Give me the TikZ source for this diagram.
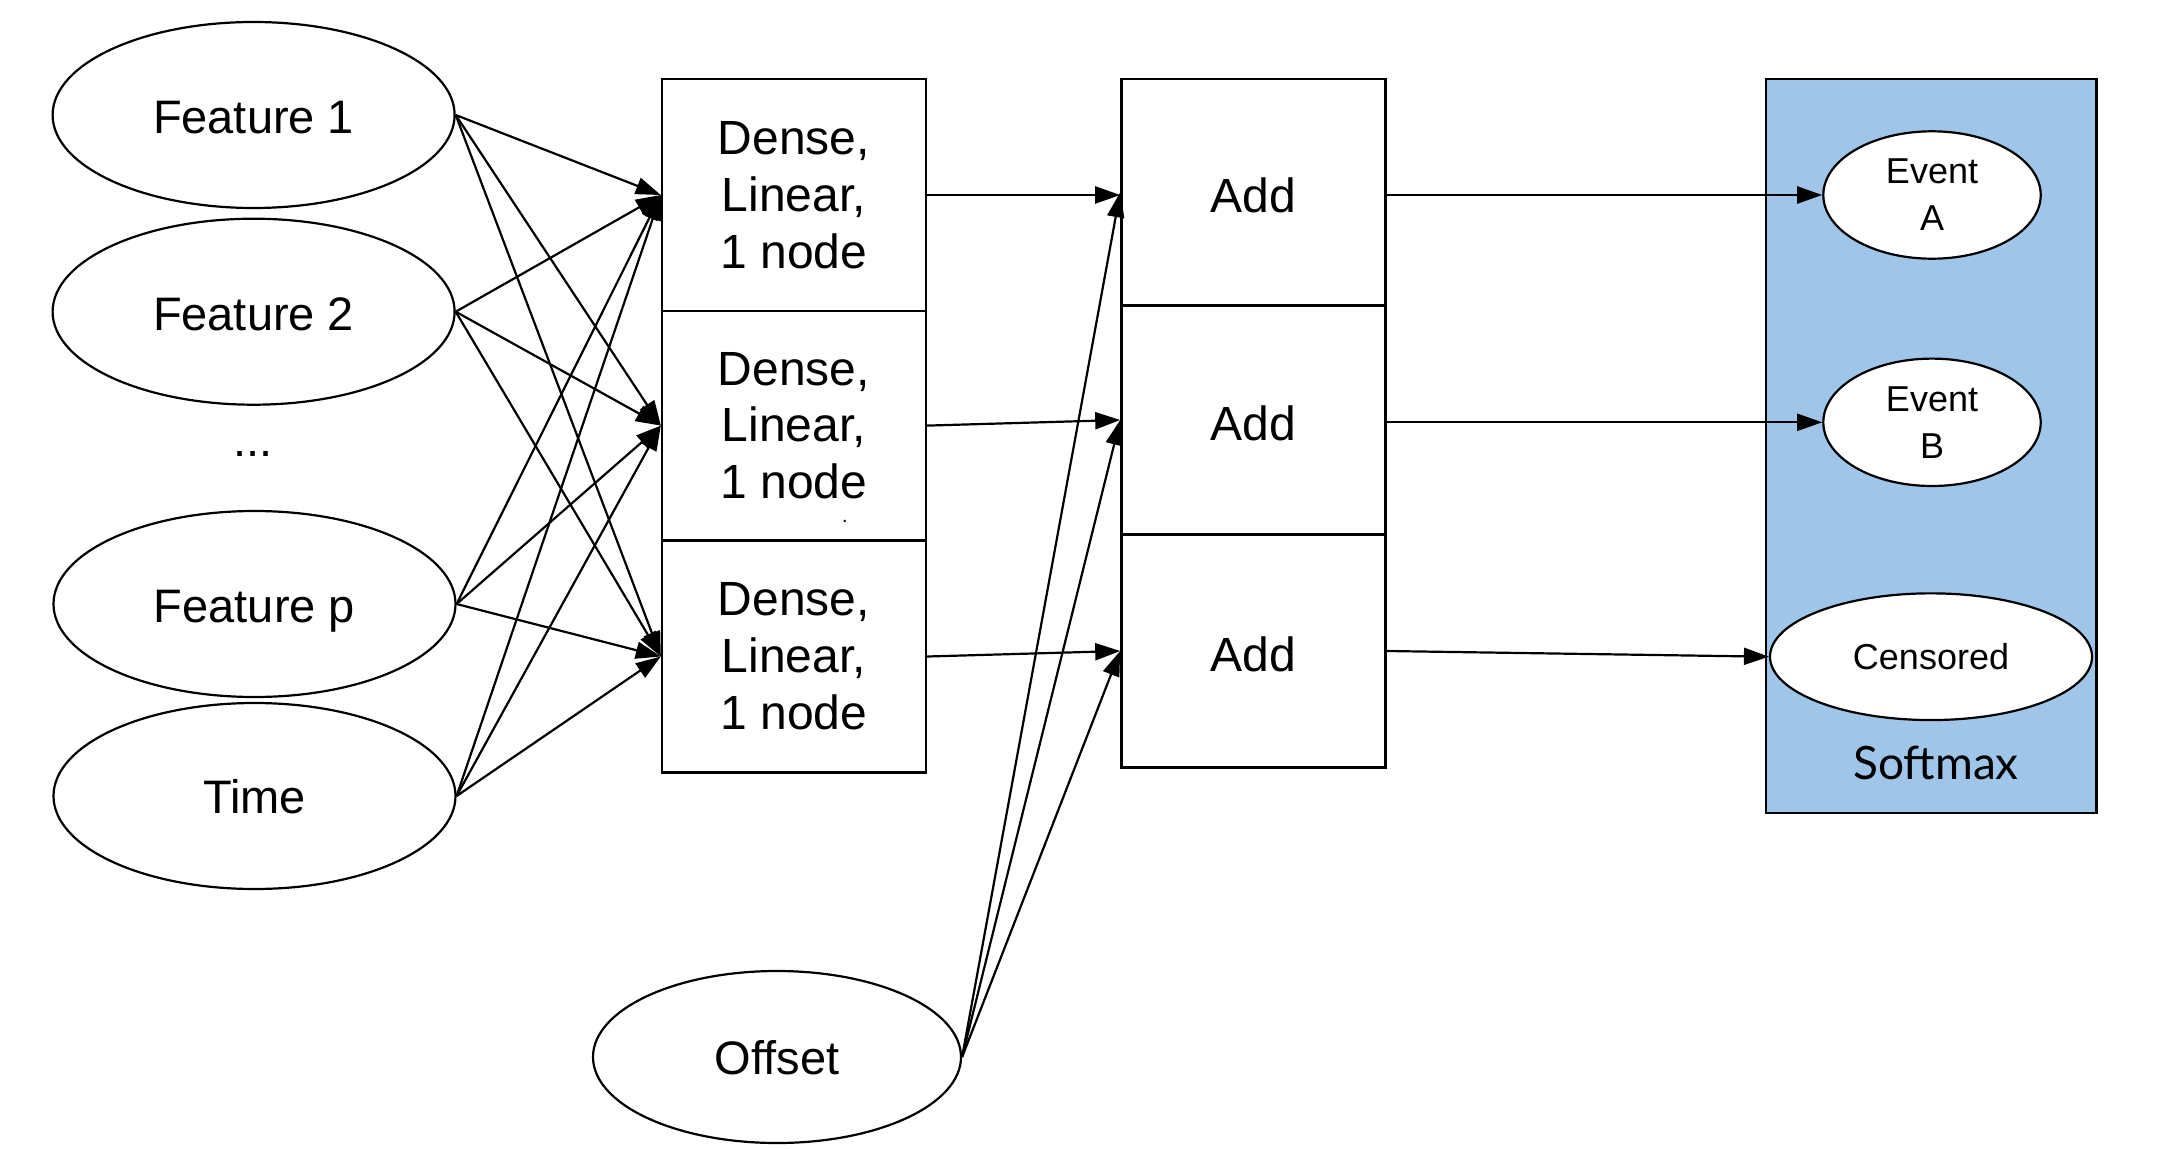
\documentclass[tikz,border=0pt]{standalone}
\usepackage{fontspec}
\setmainfont{Liberation Sans}
\newfontfamily\latofont{Lato}
\usetikzlibrary{shapes.geometric,arrows.meta}
\definecolor{softblue}{HTML}{9FC5E8}
\begin{document}
\begin{tikzpicture}[x=1pt,y=-1pt,
  ell/.style={draw, ellipse, line width=2.2pt, fill=white, inner sep=0pt},
  feat/.style={ell, minimum width=402pt, minimum height=186pt, text height=37pt, text depth=0pt, font=\fontsize{47}{56}\selectfont},
  box/.style={draw, rectangle, line width=2.4pt, inner sep=0pt, minimum width=264pt, align=center},
  dense/.style={box, font=\fontsize{48}{56.8}\selectfont},
  addbox/.style={box, text height=40.4pt, text depth=0pt, font=\fontsize{48}{56}\selectfont},
  evt/.style={ell, minimum width=217.4pt, minimum height=127.4pt, align=center, font=\fontsize{36}{47}\selectfont},
  arr/.style={-{Triangle[length=25pt,width=17pt]}, line width=2.2pt},
]
\fill[white] (0,0) rectangle (2167,1148);
\useasboundingbox (0,0) rectangle (2167,1148);

% softmax container
\node[draw, fill=softblue, line width=2.4pt, inner sep=0pt, minimum width=330.5pt, minimum height=733.5pt] (sm) at (1931.3,446) {};
\node[font=\latofont\fontsize{46}{50}\selectfont] (smlabel) at (1936,763) {Softmax};

% inputs
\node[feat] (f1) at (253.6,115) {Feature 1};
\node[feat] (f2) at (253.6,311.7) {Feature 2};
\node[font=\fontsize{47}{56}\selectfont, anchor=base, inner sep=0pt] (dots) at (253,456) {...};
\node[feat] (fp) at (254.5,604) {Feature p};
\node[feat, text height=34.5pt] (time) at (254.5,796) {Time};
\node[ell, minimum width=368pt, minimum height=172pt, text height=34.5pt, text depth=0pt, font=\fontsize{47}{56}\selectfont] (off) at (777,1057) {Offset};

% dense layers
\node[dense, minimum height=231.6pt] (d1) at (794,195) {Dense,\\Linear,\\1 node};
\node[dense, minimum height=229.6pt] (d2) at (794,425.6) {Dense,\\Linear,\\1 node};
\node[dense, minimum height=232.3pt] (d3) at (794,656.5) {Dense,\\Linear,\\1 node};
\node[font=\fontsize{20}{20}\selectfont, inner sep=0pt] (dot) at (845,521) {.};

% add layers
\node[addbox, minimum height=226.2pt] (a1) at (1253.4,192.3) {Add};
\node[addbox, minimum height=229.2pt] (a2) at (1253.4,420) {Add};
\node[addbox, minimum height=232.8pt] (a3) at (1253.4,651) {Add};

% outputs
\node[evt] (ea) at (1932,195) {Event\\A};
\node[evt] (eb) at (1932,422.3) {Event\\B};
\node[ell, minimum width=322pt, minimum height=126.7pt, font=\fontsize{36}{47}\selectfont] (cens) at (1931,656.7) {Censored};

% connectors: inputs to dense
\foreach \s in {f1,f2,fp,time}{
  \foreach \d in {d1,d2,d3}{
    \draw[arr] (\s.east) -- (\d.west);
  }
}
% dense to add
\draw[arr] (d1.east) -- (d1.east -| a1.west);
\draw[arr] (d2.east) -- (a2.west);
\draw[arr] (d3.east) -- (a3.west);
% offset to add
\draw[arr] (off.east) -- (a1.west);
\draw[arr] (off.east) -- (a2.west);
\draw[arr] (off.east) -- (a3.west);
% add to outputs
\draw[arr] (ea.west -| a1.east) -- (ea.west);
\draw[arr] (eb.west -| a2.east) -- (eb.west);
\draw[arr] (a3.east) -- (cens.west);
\end{tikzpicture}
\end{document}
